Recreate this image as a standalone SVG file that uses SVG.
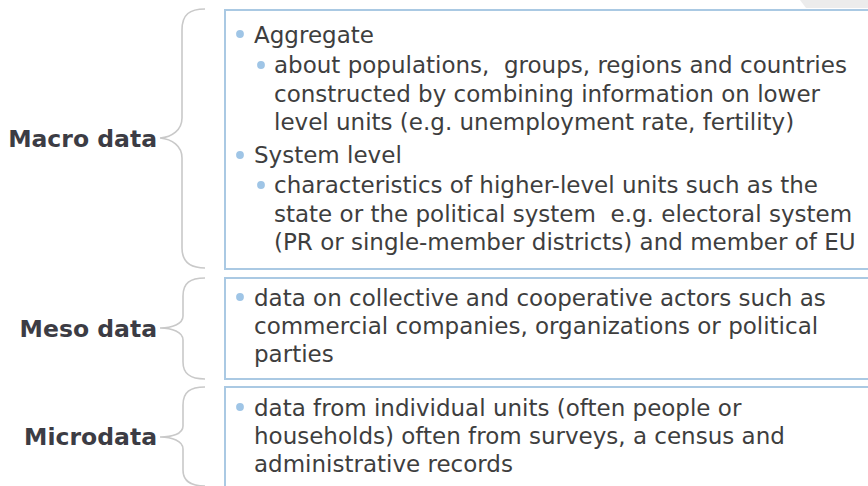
<svg xmlns="http://www.w3.org/2000/svg" width="868" height="486" viewBox="0 0 868 486">
<style>
.box{fill:#ffffff;stroke:#aac9e3;stroke-width:2}
.brace{fill:none;stroke:#c9c9c9;stroke-width:1.6}
.lbl{font-family:"DejaVu Sans",Verdana,sans-serif;font-weight:bold;font-size:23.5px;fill:#3c3c44;text-anchor:end}
.t{font-family:"DejaVu Sans",Verdana,sans-serif;font-size:23px;fill:#3e3e3e}
.b{fill:#9fc5e6}
</style>
<rect width="868" height="486" fill="#ffffff"/>
<polygon points="800,0 868,0 868,8 806,8" fill="#ececec"/>
<g id="connectors">
<path class="brace" d="M205,9 C190,9 182,14 182,30 L182,118 C182,130 172,137 160,138 C172,139 182,146 182,158 L182,248 C182,262 190,268 205,268"/>
<path class="brace" d="M205,278 C190,278 183,283 183,296 L183,316 C183,324 172,328 160,328 C172,328 183,332 183,340 L183,362 C183,374 190,379 205,379"/>
<path class="brace" d="M205,387 C190,387 183,392 183,405 L183,426 C183,434 172,437 160,437 C172,437 183,441 183,449 L183,470 C183,481 190,486 205,486"/>
</g>
<g id="macro">
<text class="lbl" x="157" y="147">Macro data</text>
<rect class="box" x="225" y="10" width="660" height="259"/>
<circle class="b" cx="240" cy="34" r="3.9"/>
<text class="t" x="254" y="43">Aggregate</text>
<circle class="b" cx="261" cy="65" r="3.9"/>
<text class="t" x="274" y="73" xml:space="preserve">about populations,  groups, regions and countries</text>
<text class="t" x="274" y="102">constructed by combining information on lower</text>
<text class="t" x="274" y="130">level units (e.g. unemployment rate, fertility)</text>
<circle class="b" cx="240" cy="155" r="3.9"/>
<text class="t" x="254" y="163">System level</text>
<circle class="b" cx="261" cy="185" r="3.9"/>
<text class="t" x="274" y="193">characteristics of higher-level units such as the</text>
<text class="t" x="274" y="222" xml:space="preserve">state or the political system  e.g. electoral system</text>
<text class="t" x="274" y="250">(PR or single-member districts) and member of EU</text>
</g>
<g id="meso">
<text class="lbl" x="157" y="337">Meso data</text>
<rect class="box" x="225" y="278" width="660" height="101"/>
<circle class="b" cx="240" cy="297" r="3.9"/>
<text class="t" x="254" y="306">data on collective and cooperative actors such as</text>
<text class="t" x="254" y="334">commercial companies, organizations or political</text>
<text class="t" x="254" y="362">parties</text>
</g>
<g id="micro">
<text class="lbl" x="157" y="445">Microdata</text>
<rect class="box" x="225" y="387" width="660" height="120"/>
<circle class="b" cx="240" cy="407" r="3.9"/>
<text class="t" x="254" y="416">data from individual units (often people or</text>
<text class="t" x="254" y="444">households) often from surveys, a census and</text>
<text class="t" x="254" y="472">administrative records</text>
</g>
</svg>
